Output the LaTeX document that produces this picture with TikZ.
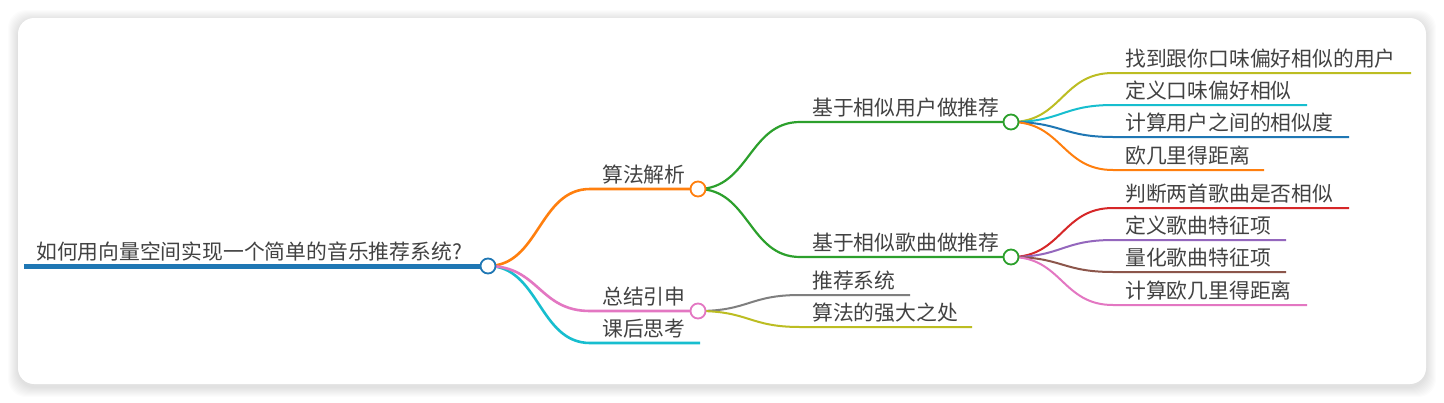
\documentclass[tikz,border=0pt]{standalone}
\usepackage{fontspec}
\newfontfamily\cjk{Noto Sans CJK SC}
\usetikzlibrary{positioning}
\definecolor{mblue}{HTML}{1F77B4}
\definecolor{morange}{HTML}{FF7F0E}
\definecolor{mgreen}{HTML}{2CA02C}
\definecolor{mred}{HTML}{D62728}
\definecolor{mpurple}{HTML}{9467BD}
\definecolor{mbrown}{HTML}{8C564B}
\definecolor{mpink}{HTML}{E377C2}
\definecolor{mgray}{HTML}{7F7F7F}
\definecolor{molive}{HTML}{BCBD22}
\definecolor{mcyan}{HTML}{17BECF}
\definecolor{txtgray}{HTML}{424242}

\begin{document}
\begin{tikzpicture}[
x=1pt, y=-1pt,
topic/.style={font=\cjk\fontsize{20.8}{22}\selectfont,
              text=txtgray,
              inner sep=0pt,
              anchor=base west},
knot/.style={circle, draw=#1, fill=white,
             line width=1.8pt, minimum size=15pt, inner sep=0pt},
branch/.style={draw=#1, line width=2pt}
]
\useasboundingbox (0,0) rectangle (1444,402);

% card with soft shadow
\foreach \k in {1,...,10} {
  \fill[black, opacity=0.012, rounded corners=18pt]
    (18-\k,18-\k+2) rectangle (1426+\k,384+\k+3);
}
\fill[white, rounded corners=16pt] (18,18) rectangle (1426,384);

% centres of the knots
\coordinate (root) at (488,266);
\coordinate (algo) at (698,189);
\coordinate (summ) at (698,311);
\coordinate (user) at (1011,122);
\coordinate (song) at (1011,257);

% root
\coordinate (root-s) at (24,266);
\draw[branch=mblue, line width=5pt] (root-s) -- (root);
\node[topic] (root-t) at ([shift={(12,-7)}]root-s) {如何用向量空间实现一个简单的音乐推荐系统?};

% first level
\coordinate (algo-s) at (590,189);
\coordinate (summ-s) at (590,311);
\coordinate (think-s) at (590,343);
\coordinate (think-e) at (700,343);
\draw[branch=morange, line width=2.6pt] (root) .. controls +(51,0) and +(-51,0) .. (algo-s) -- (algo);
\draw[branch=mcyan, line width=2.6pt] (root) .. controls +(51,0) and +(-51,0) .. (think-s) -- (think-e);
\draw[branch=mpink, line width=2.6pt] (root) .. controls +(51,0) and +(-51,0) .. (summ-s) -- (summ);
\node[topic] (algo-t) at ([shift={(12,-7)}]algo-s) {算法解析};
\node[topic] (summ-t) at ([shift={(12,-7)}]summ-s) {总结引申};
\node[topic] (think-t) at ([shift={(12,-7)}]think-s) {课后思考};

% second level
\coordinate (user-s) at (800,122);
\coordinate (song-s) at (800,257);
\draw[branch=mgreen, line width=2.2pt] (algo) .. controls +(51,0) and +(-51,0) .. (user-s) -- (user);
\draw[branch=mgreen, line width=2.2pt] (algo) .. controls +(51,0) and +(-51,0) .. (song-s) -- (song);
\node[topic] (user-t) at ([shift={(12,-7)}]user-s) {基于相似用户做推荐};
\node[topic] (song-t) at ([shift={(12,-7)}]song-s) {基于相似歌曲做推荐};

\foreach \i/\y/\xe/\col/\txt in {1/295/910/mgray/推荐系统, 2/327/972/molive/算法的强大之处} {
  \coordinate (summ-\i) at (800,\y);
  \coordinate (summ-\i-e) at (\xe,\y);
  \draw[branch=\col] (summ) .. controls +(51,0) and +(-51,0) .. (summ-\i) -- (summ-\i-e);
  \node[topic] (summ-\i-t) at ([shift={(12,-7)}]summ-\i) {\txt};
}

% leaves
\foreach \i/\y/\xe/\col/\txt in {1/73/1411/molive/找到跟你口味偏好相似的用户,
                                 2/105/1307/mcyan/定义口味偏好相似,
                                 3/137/1349/mblue/计算用户之间的相似度,
                                 4/170/1264/morange/欧几里得距离} {
  \coordinate (user-\i) at (1113,\y);
  \coordinate (user-\i-e) at (\xe,\y);
  \draw[branch=\col] (user) .. controls +(51,0) and +(-51,0) .. (user-\i) -- (user-\i-e);
  \node[topic] (user-\i-t) at ([shift={(12,-7)}]user-\i) {\txt};
}
\foreach \i/\y/\xe/\col/\txt in {1/208/1349/mred/判断两首歌曲是否相似,
                                 2/240/1286/mpurple/定义歌曲特征项,
                                 3/272/1286/mbrown/量化歌曲特征项,
                                 4/305/1307/mpink/计算欧几里得距离} {
  \coordinate (song-\i) at (1113,\y);
  \coordinate (song-\i-e) at (\xe,\y);
  \draw[branch=\col] (song) .. controls +(51,0) and +(-51,0) .. (song-\i) -- (song-\i-e);
  \node[topic] (song-\i-t) at ([shift={(12,-7)}]song-\i) {\txt};
}

% knots on top
\node[knot=mblue] (root-k) at (root) {};
\node[knot=morange] (algo-k) at (algo) {};
\node[knot=mpink] (summ-k) at (summ) {};
\node[knot=mgreen] (user-k) at (user) {};
\node[knot=mgreen] (song-k) at (song) {};

\end{tikzpicture}
\end{document}
